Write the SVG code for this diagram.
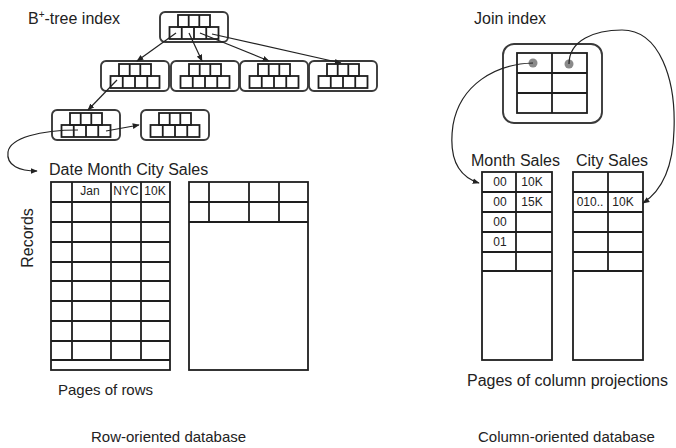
<svg xmlns="http://www.w3.org/2000/svg" xmlns:xlink="http://www.w3.org/1999/xlink" width="676" height="448" viewBox="0 0 676 448">
<style>
  .ln { fill: none; stroke: #1e1e1e; stroke-width: 1.8; }
  .box { fill: #fff; stroke: #3a3a3a; stroke-width: 1.9; }
  .lbl { font-family: "Liberation Sans", Arial, sans-serif; font-size: 16px; fill: #222; }
  .cap { font-family: "Liberation Sans", Arial, sans-serif; font-size: 15px; fill: #222; }
  .cell { font-family: "Liberation Sans", Arial, sans-serif; font-size: 12px; fill: #222; }
  .conn { fill: none; stroke: #222; stroke-width: 1.2; }
  .dot { fill: #8a8a8a; }
</style>
<defs>
  <marker id="ah" viewBox="0 0 10 10" refX="9" refY="5" markerWidth="7" markerHeight="7" orient="auto" markerUnits="userSpaceOnUse">
    <path d="M0,1 L10,5 L0,9 z" fill="#222"/>
  </marker>
  <g id="bnode">
    <rect x="0" y="0" width="68" height="30" rx="5" class="box"/>
    <rect x="18" y="3" width="32" height="12" class="ln"/>
    <line x1="28.7" y1="3" x2="28.7" y2="15" class="ln"/>
    <line x1="39.3" y1="3" x2="39.3" y2="15" class="ln"/>
    <rect x="9.5" y="15" width="49" height="12" class="ln"/>
    <line x1="21.75" y1="15" x2="21.75" y2="27" class="ln"/>
    <line x1="34" y1="15" x2="34" y2="27" class="ln"/>
    <line x1="46.25" y1="15" x2="46.25" y2="27" class="ln"/>
  </g>
</defs>
<rect width="676" height="448" fill="#fff"/>

<!-- Labels -->
<text class="lbl" x="28" y="24">B<tspan font-size="10" dy="-6">+</tspan><tspan dy="6">-tree index</tspan></text>
<text class="lbl" x="474" y="24">Join index</text>
<text class="lbl" x="49" y="175">Date Month City Sales</text>
<text class="lbl" x="471" y="166">Month Sales</text>
<text class="lbl" x="576" y="166">City Sales</text>
<text class="lbl" transform="translate(33,238) rotate(-90)" text-anchor="middle">Records</text>
<text class="cap" x="58" y="395" font-size="14.5">Pages of rows</text>
<text class="lbl" x="467" y="386">Pages of column projections</text>
<text class="cap" x="91" y="442">Row-oriented database</text>
<text class="cap" x="478" y="442">Column-oriented database</text>

<!-- B+-tree nodes -->
<g id="root"><use xlink:href="#bnode" x="160" y="12"/></g>
<g id="n21"><use xlink:href="#bnode" x="101" y="61"/></g>
<g id="n22"><use xlink:href="#bnode" x="171" y="61"/></g>
<g id="n23"><use xlink:href="#bnode" x="240" y="61"/></g>
<g id="n24"><use xlink:href="#bnode" x="309" y="61"/></g>
<g id="n31"><use xlink:href="#bnode" x="52" y="110"/></g>
<g id="n32"><use xlink:href="#bnode" x="141" y="110"/></g>

<!-- Row-oriented pages -->
<g id="rowpage1">
  <rect x="51" y="182" width="119" height="188" class="ln"/>
  <path class="ln" d="M72,182V360 M111,182V360 M141,182V360 M51,202H170 M51,222H170 M51,242H170 M51,262H170 M51,281H170 M51,301H170 M51,321H170 M51,341H170 M51,360H170"/>
  <text class="cell" x="90" y="195" text-anchor="middle">Jan</text>
  <text class="cell" x="126" y="195" text-anchor="middle">NYC</text>
  <text class="cell" x="155" y="195" text-anchor="middle">10K</text>
</g>
<g id="rowpage2">
  <rect x="189" y="182" width="119" height="188" class="ln"/>
  <path class="ln" d="M209,182V222 M249,182V222 M279,182V222 M189,202H308 M189,222H308"/>
</g>

<!-- Join index -->
<g id="joinindex">
  <rect x="503" y="44" width="99" height="79" rx="11" class="box"/>
  <rect x="517" y="53" width="70" height="60" class="ln"/>
  <path class="ln" d="M552,53V113 M517,73H587 M517,93H587"/>
  <circle class="dot" cx="533" cy="63" r="4.5"/>
  <circle class="dot" cx="569" cy="64" r="4.5"/>
</g>

<!-- Column projections -->
<g id="monthsales">
  <rect x="482" y="172" width="70" height="188" class="ln"/>
  <path class="ln" d="M516,172V271 M482,192H552 M482,212H552 M482,232H552 M482,252H552 M482,271H552"/>
  <text class="cell" x="500" y="186" text-anchor="middle">00</text>
  <text class="cell" x="532" y="186" text-anchor="middle">10K</text>
  <text class="cell" x="500" y="206" text-anchor="middle">00</text>
  <text class="cell" x="532" y="206" text-anchor="middle">15K</text>
  <text class="cell" x="500" y="226" text-anchor="middle">00</text>
  <text class="cell" x="500" y="246" text-anchor="middle">01</text>
</g>
<g id="citysales">
  <rect x="573" y="172" width="70" height="188" class="ln"/>
  <path class="ln" d="M608,172V271 M573,192H643 M573,212H643 M573,232H643 M573,252H643 M573,271H643"/>
  <text class="cell" x="590" y="206" text-anchor="middle">010..</text>
  <text class="cell" x="623" y="206" text-anchor="middle">10K</text>
</g>

<!-- Connectors -->
<g id="connectors">
  <line class="conn" x1="176" y1="33" x2="137" y2="61" marker-end="url(#ah)"/>
  <line class="conn" x1="189" y1="33" x2="202" y2="61" marker-end="url(#ah)"/>
  <line class="conn" x1="200" y1="33" x2="269" y2="61" marker-end="url(#ah)"/>
  <line class="conn" x1="212" y1="34" x2="341" y2="63" marker-end="url(#ah)"/>
  <line class="conn" x1="117" y1="80" x2="88" y2="110" marker-end="url(#ah)"/>
  <line class="conn" x1="106" y1="131" x2="139" y2="125" marker-end="url(#ah)"/>
  <path class="conn" d="M78,130 C 40,130 10,138 8,152 C 6,166 20,171 37,171" marker-end="url(#ah)"/>
  <path class="conn" d="M533,63 C 495,64 460,85 453,125 C 448,160 460,177 479,183" marker-end="url(#ah)"/>
  <path class="conn" d="M569,64 C 569,40 595,30 622,30 C 660,30 676,80 674,130 C 673,170 660,192 643,203" marker-end="url(#ah)"/>
</g>
</svg>
